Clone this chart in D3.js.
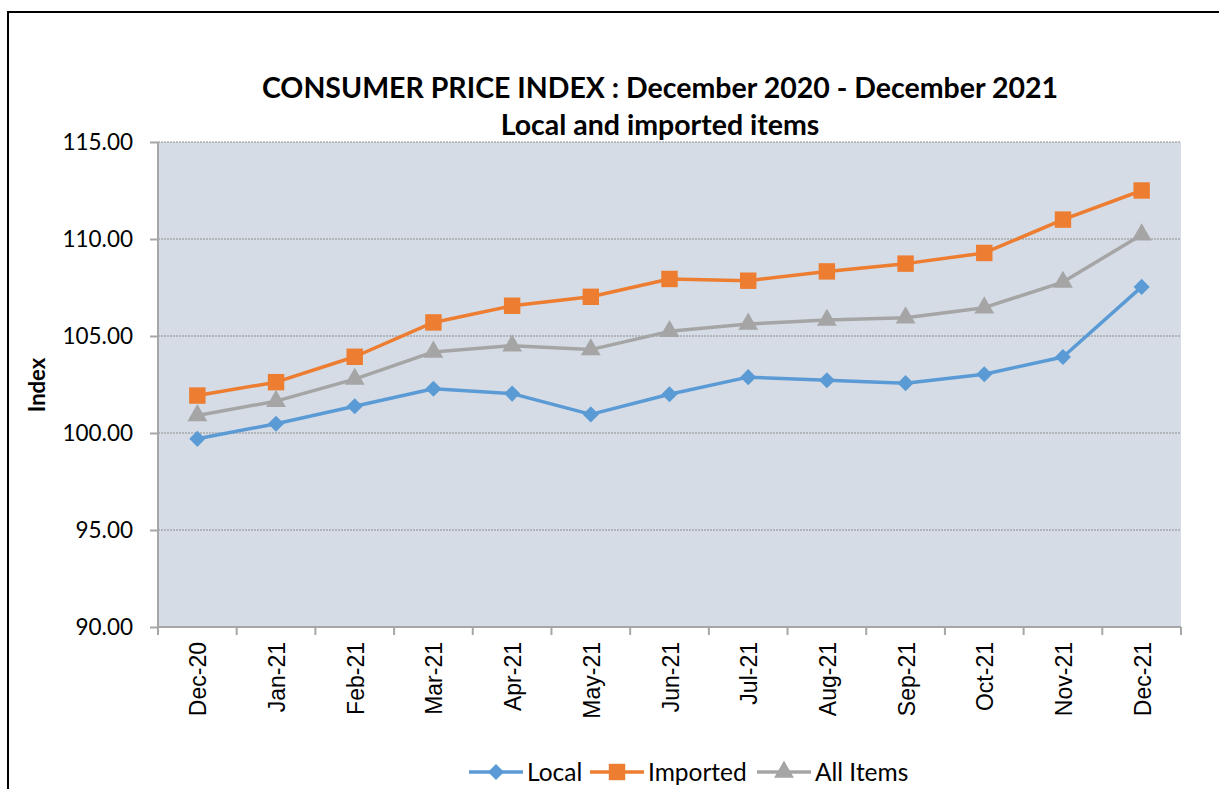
<!DOCTYPE html>
<html>
<head>
<meta charset="utf-8">
<script src="https://cdn.jsdelivr.net/npm/d3@7"></script>
<style>
  body { margin: 0; background: #fff; }
  svg { display: block; }
</style>
</head>
<body>
<svg></svg>
<script>
// Chart data.
const months = ["Dec-20", "Jan-21", "Feb-21", "Mar-21", "Apr-21", "May-21", "Jun-21",
                "Jul-21", "Aug-21", "Sep-21", "Oct-21", "Nov-21", "Dec-21"];
const local = [99.70, 100.48, 101.38, 102.28, 102.03, 100.96, 102.00,
               102.88, 102.72, 102.57, 103.03, 103.92, 107.53];
const imported = [101.93, 102.62, 103.93, 105.70, 106.56, 107.02, 107.94,
                  107.85, 108.33, 108.73, 109.28, 111.00, 112.50];
const allItems = [100.90, 101.64, 102.78, 104.18, 104.50, 104.30, 105.24,
                  105.62, 105.82, 105.94, 106.46, 107.78, 110.22];
const yTicks = [90, 95, 100, 105, 110, 115];

// Dimensions
const width = 1219;
const height = 789;
const marginTop = 142;
const marginRight = 38;   // plot right edge at 1181
const marginBottom = 162; // plot bottom at 627
const marginLeft = 158;

const sans = "Lato, 'Open Sans', sans-serif";

const svg = d3.select("svg")
    .attr("width", width)
    .attr("height", height)
    .attr("viewBox", [0, 0, width, height]);

// Outer chart frame
svg.append("rect")
    .attr("x", 8).attr("y", 12)
    .attr("width", 1230).attr("height", 800)
    .attr("fill", "none")
    .attr("stroke", "#000")
    .attr("stroke-width", 2);

const x = d3.scaleBand(months, [marginLeft, width - marginRight]);
const y = d3.scaleLinear([90, 115], [height - marginBottom, marginTop]);
const cx = d => x(d) + x.bandwidth() / 2;

// Plot area background
svg.append("rect")
    .attr("x", marginLeft).attr("y", marginTop)
    .attr("width", width - marginLeft - marginRight)
    .attr("height", height - marginTop - marginBottom)
    .attr("fill", "#D6DCE5");

// Gridlines (dotted)
svg.append("g")
  .selectAll("line")
  .data(yTicks.filter(d => d > 90))
  .join("line")
    .attr("x1", marginLeft)
    .attr("x2", width - marginRight)
    .attr("y1", d => y(d))
    .attr("y2", d => y(d))
    .attr("stroke", "#8c8c8c")
    .attr("stroke-width", 1)
    .attr("stroke-dasharray", "2,1");

// Y axis
svg.append("g")
    .attr("transform", `translate(${marginLeft},0)`)
    .call(d3.axisLeft(y).tickValues(yTicks).tickFormat(d3.format(".2f")).tickSize(8).tickPadding(17))
    .call(g => g.select(".domain").attr("stroke", "#a6a6a6").attr("stroke-width", 2).attr("d", `M0,${marginTop}V${height - marginBottom}`))
    .call(g => g.selectAll(".tick line").attr("stroke", "#a6a6a6").attr("stroke-width", 2))
    .call(g => g.selectAll(".tick text")
        .attr("fill", "#000")
        .attr("font-family", sans)
        .attr("font-size", 22.5));

// X axis: ticks at category boundaries
const xAxisY = height - marginBottom;
svg.append("line")
    .attr("x1", marginLeft).attr("x2", width - marginRight)
    .attr("y1", xAxisY).attr("y2", xAxisY)
    .attr("stroke", "#a6a6a6").attr("stroke-width", 2);

const boundaries = months.map(d => x(d)).concat([x(months[months.length - 1]) + x.bandwidth()]);
svg.append("g")
  .selectAll("line")
  .data(boundaries)
  .join("line")
    .attr("x1", d => d)
    .attr("x2", d => d)
    .attr("y1", xAxisY)
    .attr("y2", xAxisY + 8)
    .attr("stroke", "#a6a6a6").attr("stroke-width", 2);

svg.append("g")
  .selectAll("text")
  .data(months)
  .join("text")
    .attr("transform", d => `translate(${cx(d) + 9},${xAxisY + 15}) rotate(-90)`)
    .attr("text-anchor", "end")
    .attr("font-family", "'Liberation Sans', Arial, sans-serif")
    .attr("font-size", 23)
    .attr("fill", "#000")
    .text(d => d);

// Y axis title
svg.append("text")
    .attr("transform", `translate(45,385) rotate(-90)`)
    .attr("text-anchor", "middle")
    .attr("font-family", sans)
    .attr("font-weight", "bold")
    .attr("font-size", 22)
    .text("Index");

// Chart title
svg.append("text")
    .attr("x", 660).attr("y", 98)
    .attr("text-anchor", "middle")
    .attr("font-family", sans)
    .attr("font-weight", "bold")
    .attr("font-size", 28.5)
    .text("CONSUMER PRICE INDEX : December 2020 - December 2021");
svg.append("text")
    .attr("x", 660).attr("y", 135)
    .attr("text-anchor", "middle")
    .attr("font-family", sans)
    .attr("font-weight", "bold")
    .attr("font-size", 28.5)
    .text("Local and imported items");

// Series
const series = [
  {name: "Local", values: local, color: "#5B9BD5", symbol: d3.symbolSquare, size: 130, rotate: 45},
  {name: "Imported", values: imported, color: "#ED7D31", symbol: d3.symbolSquare, size: 270, rotate: 0},
  {name: "All Items", values: allItems, color: "#A5A5A5", symbol: d3.symbolTriangle, size: 170, rotate: 0}
];

const line = d3.line()
    .x((d, i) => cx(months[i]))
    .y(d => y(d));

for (const s of series) {
  svg.append("path")
      .attr("d", line(s.values))
      .attr("fill", "none")
      .attr("stroke", s.color)
      .attr("stroke-width", 3.5)
      .attr("stroke-linejoin", "round");

  svg.append("g")
    .selectAll("path")
    .data(s.values)
    .join("path")
      .attr("transform", (d, i) => `translate(${cx(months[i])},${y(d)}) rotate(${s.rotate})`)
      .attr("d", d3.symbol(s.symbol, s.size))
      .attr("fill", s.color);
}

// Legend
const legendX = [469, 590, 757];
const legendY = 772;
series.forEach((s, i) => {
  const g = svg.append("g").attr("transform", `translate(${legendX[i]},${legendY})`);
  g.append("line")
      .attr("x1", 0).attr("x2", 54)
      .attr("stroke", s.color).attr("stroke-width", 3.5);
  g.append("path")
      .attr("transform", `translate(27,0) rotate(${s.rotate})`)
      .attr("d", d3.symbol(s.symbol, s.size))
      .attr("fill", s.color);
  g.append("text")
      .attr("x", 58).attr("y", 8.5)
      .attr("font-family", sans)
      .attr("font-size", 24.5)
      .text(s.name);
});
</script>
</body>
</html>
